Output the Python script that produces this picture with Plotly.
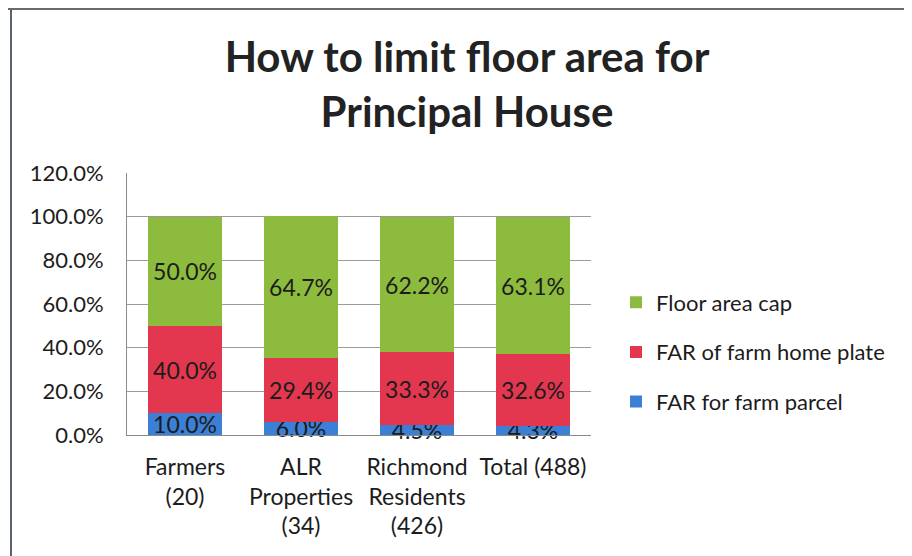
import plotly.graph_objects as go

categories = ["Farmers<br>(20)", "ALR<br>Properties<br>(34)", "Richmond<br>Residents<br>(426)", "Total (488)"]
far_parcel = [10.0, 6.0, 4.5, 4.3]
far_home_plate = [40.0, 29.4, 33.3, 32.6]
floor_area_cap = [50.0, 64.7, 62.2, 63.1]

series = [
    ("FAR for farm parcel", far_parcel, "#3b7fd6", 3),
    ("FAR of farm home plate", far_home_plate, "#e2374f", 2),
    ("Floor area cap", floor_area_cap, "#8dbb3d", 1),
]

FONT = "Lato"
fig = go.Figure()
for name, vals, color, rank in series:
    fig.add_trace(go.Bar(
        x=categories, y=vals, name=name, legendgroup=name, legendrank=rank,
        marker=dict(color=color, line=dict(width=0)),
        text=[f"{v:.1f}%" for v in vals], textposition="inside",
        insidetextanchor="middle", textangle=0,
        insidetextfont=dict(family=FONT, size=23, color="#1c1c1c"),
        constraintext="none", cliponaxis=False,
    ))

# page has an 8px body margin: work in figure pixels (page pixel - 8)
W, H = 904, 548
L, R, T, B = 119, 583, 165, 427
px = lambda x: (x - L) / (R - L)
py = lambda y: (B - y) / (B - T)

fig.update_layout(
    width=W, height=H, barmode="stack", bargap=0.36,
    margin=dict(l=L, r=W - R, t=T, b=H - B, autoexpand=False),
    paper_bgcolor="white", plot_bgcolor="white",
    font=dict(family=FONT, color="#1c1c1c", size=22),
    uniformtext=dict(minsize=23, mode="show"),
    title=dict(text="<b>How to limit floor area for<br>Principal House</b>",
               x=459 / W, xanchor="center", y=1 - 64 / H, yanchor="top",
               yref="container", font=dict(family=FONT, size=42, color="#222")),
    showlegend=True,
    legend=dict(x=px(608), xanchor="left", y=py(344), yanchor="middle",
                traceorder="grouped", tracegroupgap=18,
                font=dict(family=FONT, size=22, color="#1c1c1c"), bgcolor="rgba(0,0,0,0)"),
    xaxis=dict(showgrid=False, showline=True, linecolor="#8a8a8a", linewidth=1,
               tickfont=dict(family=FONT, size=23), ticks="", ticklabelstandoff=11),
    yaxis=dict(range=[0, 120], dtick=20, tickformat=".1f", ticksuffix="%",
               showgrid=True, gridcolor="#9a9a9a", gridwidth=1,
               showline=True, linecolor="#8a8a8a", linewidth=1, zeroline=False,
               tickfont=dict(family=FONT, size=22), ticklabelstandoff=18),
    shapes=[
        dict(type="line", xref="paper", yref="paper", x0=px(-10), x1=px(W + 10),
             y0=py(1), y1=py(1), line=dict(color="#6a6a6a", width=2)),
        dict(type="line", xref="paper", yref="paper", x0=px(3), x1=px(3),
             y0=py(1), y1=py(H + 10), line=dict(color="#5a6470", width=2)),
    ],
)
fig.write_html("out.html")
